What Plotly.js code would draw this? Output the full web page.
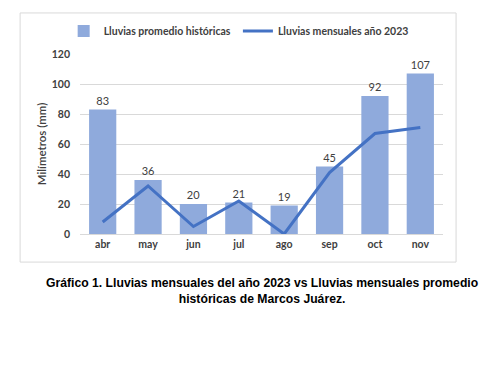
<!DOCTYPE html>
<html><head><meta charset="utf-8">
<script src="https://cdn.plot.ly/plotly-3.0.1.min.js"></script>
<style>html,body{margin:0;padding:0;background:#fff;}#chart{width:504px;height:367px;}</style>
</head><body><div id="chart"></div>
<script>
const months = ['abr','may','jun','jul','ago','sep','oct','nov'];
const historicas = [83, 36, 20, 21, 19, 45, 92, 107];
const mensuales2023 = [8, 32, 5, 22, 0, 41, 67, 71];
const barName = 'Lluvias promedio históricas';
const lineName = 'Lluvias mensuales año 2023';
const yTitle = 'Milímetros (mm)';
const caption = 'Gráfico 1. Lluvias mensuales del año 2023 vs Lluvias mensuales promedio<br>históricas de Marcos Juárez.';

const fontFam = 'Lato, Open Sans, sans-serif';
const traces = [
  {type:'bar', x:months, y:historicas, name:barName, legend:'legend',
   marker:{color:'#8FAADC'}, text:historicas.map(String), textposition:'outside',
   textfont:{family:fontFam, size:11, color:'#404040'}, cliponaxis:false, hoverinfo:'skip'},
  {type:'scatter', mode:'lines', x:months, y:mensuales2023, name:lineName, legend:'legend2',
   line:{color:'#4472C4', width:3}}
];
const legFont = {family:fontFam, size:10.5, color:'#404040', weight:'bold'};
const layout = {
  width:504, height:367,
  margin:{l:80, r:61, t:54, b:133, autoexpand:false},
  paper_bgcolor:'#fff', plot_bgcolor:'#fff',
  bargap:0.4,
  showlegend:true,
  legend:{orientation:'h', x:-0.045, xanchor:'left', y:1.128, yanchor:'middle', font:legFont, itemwidth:30, bgcolor:'rgba(0,0,0,0)'},
  legend2:{orientation:'h', x:0.435, xanchor:'left', y:1.128, yanchor:'middle', font:legFont, itemwidth:30, bgcolor:'rgba(0,0,0,0)'},
  xaxis:{showgrid:false, showline:true, linecolor:'#d9d9d9', linewidth:1, ticks:'',
    tickfont:{family:fontFam, size:10.5, color:'#404040', weight:'bold'}, fixedrange:true},
  yaxis:{range:[0,120], dtick:20, showgrid:true, gridcolor:'#d9d9d9', zeroline:false,
    showline:false, ticks:'', ticklabelstandoff:9,
    tickfont:{family:fontFam, size:10.5, color:'#404040', weight:'bold'},
    title:{text:yTitle, font:{family:fontFam, size:11.5, color:'#404040', weight:600}, standoff:2}},
  shapes:[{type:'rect', xref:'paper', yref:'paper', x0:-0.165, x1:1.036, y0:-0.156, y1:1.228,
    line:{color:'#d9d9d9', width:1}, fillcolor:'rgba(0,0,0,0)', layer:'below'}],
  annotations:[{text:caption, xref:'paper', yref:'paper', x:0.5, y:-0.317, xanchor:'center', yanchor:'middle',
    showarrow:false, align:'center', font:{family:'Liberation Sans, Arial, sans-serif', size:12.2, color:'#000', weight:'bold'}}]
};
Plotly.newPlot('chart', traces, layout, {displayModeBar:false, staticPlot:true});
</script></body></html>
